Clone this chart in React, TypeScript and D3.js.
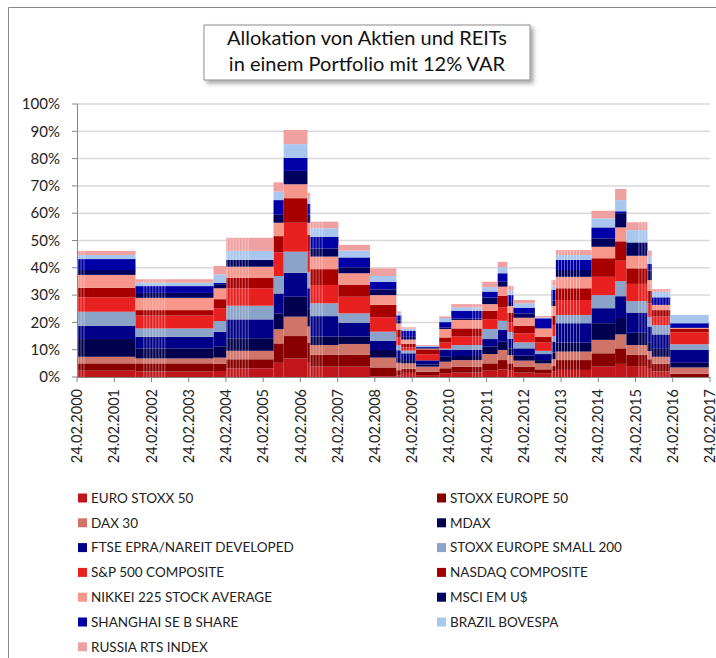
import { useEffect, useMemo } from 'react';
import * as d3 from 'd3';

// allocation periods (start dates), values in % of portfolio per index
const periodStarts = [
  '2000-02-24', '2001-09-20', '2003-10-25', '2004-02-27', '2005-06-05', '2005-09-12', '2006-05-04',
  '2006-06-01', '2007-03-04', '2008-01-08', '2008-09-22', '2008-11-10', '2009-04-03', '2009-11-17',
  '2010-03-15', '2011-01-12', '2011-06-13', '2011-09-17', '2011-11-14', '2012-06-12', '2012-11-22',
  '2013-01-04', '2013-12-19', '2014-08-08', '2014-11-27', '2015-06-21', '2015-08-04', '2016-01-31',
];
const periodEnd = '2017-02-12';

const euroStoxx50 = [2.3, 2.0, 2.2, 3.2, 5.2, 6.8, 5.5, 3.8, 3.8, 0.3, 0.5, 1.5, 0.7, 1.4, 1.6, 2.3, 2.8, 2.5, 1.6, 1.4, 2.0, 2.6, 3.8, 4.8, 4.0, 3.0, 2.0, 0];
const stoxxEurope50 = [2.7, 3.0, 2.6, 3.3, 7.1, 8.2, 7.0, 4.3, 4.3, 3.2, 2.0, 1.5, 1.2, 1.8, 2.2, 2.7, 3.4, 2.5, 2.2, 1.4, 2.0, 3.6, 4.9, 5.7, 4.1, 3.5, 2.8, 1.2];
const dax30 = [2.4, 1.8, 2.3, 3.1, 5.2, 7.1, 6.0, 3.6, 4.0, 3.6, 2.7, 2.0, 1.9, 2.4, 2.4, 3.4, 3.7, 3.0, 2.2, 2.2, 2.5, 3.1, 4.9, 5.1, 3.6, 3.0, 2.6, 2.3];
const mdax = [6.5, 3.7, 4.0, 4.6, 5.8, 7.3, 6.5, 3.1, 2.7, 2.8, 1.8, 1.2, 0.8, 1.8, 1.5, 2.7, 3.0, 2.5, 1.8, 1.2, 2.5, 3.3, 6.1, 6.0, 4.5, 3.0, 2.9, 1.7];
const ftseEpra = [4.9, 4.2, 5.5, 6.9, 7.3, 8.8, 7.5, 7.5, 5.1, 3.4, 2.8, 2.5, 1.5, 2.5, 2.2, 2.8, 4.3, 3.5, 2.7, 2.2, 4.0, 7.1, 5.5, 8.0, 7.4, 6.0, 5.3, 4.7];
const stoxxSmall200 = [5.1, 3.1, 3.9, 5.0, 6.4, 7.7, 6.0, 4.7, 3.4, 3.3, 1.8, 1.0, 0, 0.5, 1.8, 3.7, 3.4, 2.5, 2.2, 1.2, 2.0, 3.0, 4.8, 5.5, 4.2, 3.5, 3.4, 2.1];
const sp500 = [5.3, 4.7, 4.7, 6.4, 8.7, 10.6, 7.5, 6.7, 6.1, 5.3, 3.0, 1.2, 2.2, 2.2, 3.1, 3.6, 4.9, 3.5, 3.3, 3.1, 4.0, 5.5, 6.7, 7.5, 6.3, 5.0, 3.1, 4.4];
const nasdaq = [3.5, 2.0, 3.3, 3.9, 5.9, 9.0, 6.0, 5.8, 4.3, 4.5, 2.8, 1.3, 1.8, 1.9, 3.0, 3.1, 4.2, 3.5, 2.8, 2.1, 3.5, 4.3, 6.8, 7.1, 5.7, 4.5, 2.4, 1.2];
const nikkei225 = [4.7, 4.5, 4.0, 4.0, 4.9, 5.1, 4.5, 4.6, 4.3, 3.6, 2.2, 1.5, 0.3, 3.1, 3.1, 2.4, 3.4, 2.5, 2.9, 3.0, 3.5, 4.2, 4.2, 5.1, 4.6, 4.0, 1.9, 0.4];
const msciEm = [1.8, 1.8, 1.5, 2.5, 3.1, 4.9, 3.0, 3.0, 2.2, 2.1, 1.2, 1.0, 0.3, 0.5, 0.5, 2.4, 1.8, 1.5, 1.6, 0, 2.0, 2.5, 3.1, 5.2, 4.9, 3.5, 0, 0];
const shanghaiB = [4.0, 2.5, 0.5, 0, 5.2, 4.8, 4.0, 4.3, 3.6, 2.8, 1.8, 2.3, 0.4, 2.0, 2.8, 2.2, 3.1, 2.5, 2.1, 3.7, 4.0, 3.7, 4.0, 0.7, 0, 2.5, 2.8, 1.7];
const brazilBovespa = [1.5, 1.3, 3.1, 3.3, 3.1, 5.0, 2.5, 3.1, 2.5, 2.1, 0.8, 0.7, 0.3, 1.5, 1.3, 1.6, 2.2, 1.8, 1.6, 0.3, 1.5, 1.8, 3.3, 4.1, 4.5, 2.5, 2.0, 3.0];
const russiaRts = [1.5, 1.2, 3.1, 4.8, 3.4, 5.2, 1.5, 2.4, 2.1, 2.8, 0.6, 0.5, 0.3, 0.6, 1.2, 2.0, 2.0, 1.6, 1.2, 0.5, 2.0, 1.8, 2.8, 4.1, 2.9, 2.3, 1.0, 0];

const seriesNames = [
  'EURO STOXX 50', 'STOXX EUROPE 50', 'DAX 30', 'MDAX', 'FTSE EPRA/NAREIT DEVELOPED',
  'STOXX EUROPE SMALL 200', 'S&P 500 COMPOSITE', 'NASDAQ COMPOSITE', 'NIKKEI 225 STOCK AVERAGE',
  'MSCI EM U$', 'SHANGHAI SE B SHARE', 'BRAZIL BOVESPA', 'RUSSIA RTS INDEX',
];
const seriesValues = [
  euroStoxx50, stoxxEurope50, dax30, mdax, ftseEpra, stoxxSmall200, sp500,
  nasdaq, nikkei225, msciEm, shanghaiB, brazilBovespa, russiaRts,
];
const colors = [
  '#C0161B', '#880000', '#D0746A', '#00004E', '#000088', '#8BA3C8', '#E82020',
  '#A80000', '#F7968A', '#00005E', '#0000A6', '#A9C6EF', '#EFA0A0',
];

// weeks of rebalancing that show as thin striped columns
const stripeRanges = [
  ['2000-02-24', '2000-05-10'], ['2001-12-01', '2002-07-20'], ['2004-02-27', '2004-09-30'],
  ['2006-05-20', '2006-10-10'], ['2008-09-22', '2009-04-03'], ['2010-10-01', '2011-01-12'],
  ['2011-09-17', '2011-11-14'], ['2012-11-22', '2013-09-01'], ['2015-03-20', '2016-01-31'],
];

const yTicks = [0, 10, 20, 30, 40, 50, 60, 70, 80, 90, 100];
const titleLines = ['Allokation von Aktien und REITs', 'in einem Portfolio mit 12% VAR'];

const parse = d3.utcParse('%Y-%m-%d');
const fmt = d3.utcFormat('%d.%m.%Y');
const FONT = 'Lato, "Open Sans", sans-serif';

export default function App() {
  useEffect(() => {
    document.body.style.margin = '0';
  }, []);

  const W = 716;
  const H = 658;
  const x = d3.scaleUtc().domain([parse('2000-02-24')!, parse('2017-02-24')!]).range([77, 710]);
  const y = d3.scaleLinear().domain([0, 100]).range([377, 104]);

  const { layers, rows, bounds } = useMemo(() => {
    const rows = periodStarts.map((d, i) => {
      const r: Record<string, number> = { i };
      seriesNames.forEach((n, k) => (r[n] = seriesValues[k][i]));
      return r;
    });
    const layers = d3.stack<Record<string, number>>().keys(seriesNames)(rows);
    const bounds = [...periodStarts, periodEnd].map((d) => parse(d)!);
    return { layers, rows, bounds };
  }, []);

  const totals = rows.map((_, i) => seriesValues.reduce((s, a) => s + a[i], 0));
  const totalAt = (dt: Date) => {
    const i = d3.bisectRight(bounds, dt) - 1;
    return i >= 0 && i < totals.length ? totals[i] : 0;
  };

  const stripes: { xp: number; top: number }[] = [];
  stripeRanges.forEach(([a, b]) => {
    const x0 = x(parse(a)!);
    const x1 = x(parse(b)!);
    for (let xp = x0 + 1; xp < x1; xp += 3) {
      stripes.push({ xp, top: totalAt(x.invert(xp)) });
    }
  });

  const yearTicks = d3.range(2000, 2018).map((yr) => parse(`${yr}-02-24`)!);

  return (
    <svg width={W} height={H} style={{ display: 'block', background: '#fff' }} fontFamily={FONT}>
      <defs>
        <filter id="shadow" x="-10%" y="-20%" width="130%" height="160%">
          <feDropShadow dx="3" dy="3" stdDeviation="2" floodColor="#000" floodOpacity="0.35" />
        </filter>
      </defs>
      <path d={`M8.5,${H} V7.5 H${W}`} fill="none" stroke="#8a8a8a" />

      {/* gridlines */}
      {yTicks.slice(1).map((t) => (
        <line key={t} x1={77} x2={710} y1={y(t)} y2={y(t)} stroke="#d9d9d9" strokeWidth={1.5} />
      ))}

      {/* stacked allocation blocks */}
      {layers.map((layer, k) => (
        <g key={layer.key} fill={colors[k]}>
          {layer.map((d, i) => {
            const h = y(d[0]) - y(d[1]);
            if (h <= 0) return null;
            return (
              <rect
                key={i}
                x={x(bounds[i])}
                y={y(d[1])}
                width={x(bounds[i + 1]) - x(bounds[i])}
                height={h}
              />
            );
          })}
        </g>
      ))}

      {/* striped transition weeks */}
      <g stroke="#fff" strokeOpacity={0.38} strokeWidth={1}>
        {stripes.map((s, i) => (
          <line key={i} x1={s.xp} x2={s.xp} y1={y(0)} y2={y(s.top)} />
        ))}
      </g>

      {/* axes */}
      <g stroke="#868686" strokeWidth={1}>
        <line x1={77.5} x2={77.5} y1={y(100)} y2={y(0)} />
        <line x1={77} x2={710} y1={y(0) + 0.5} y2={y(0) + 0.5} />
        {yTicks.map((t) => (
          <line key={t} x1={72} x2={77.5} y1={y(t)} y2={y(t)} />
        ))}
        {yearTicks.map((d, i) => (
          <line key={i} x1={x(d)} x2={x(d)} y1={y(0)} y2={y(0) + 5} />
        ))}
      </g>
      {yTicks.map((t) => (
        <text key={t} x={60} y={y(t)} dy="0.35em" textAnchor="end" fontSize={15} fill="#222">
          {t}%
        </text>
      ))}
      {yearTicks.map((d, i) => (
        <text
          key={i}
          transform={`translate(${x(d)},389) rotate(-90)`}
          textAnchor="end"
          dy="0.35em"
          fontSize={14.5}
          fill="#222"
        >
          {fmt(d)}
        </text>
      ))}

      {/* title */}
      <rect x={204} y={25} width={326} height={55} fill="#fff" stroke="#8c8c8c" filter="url(#shadow)" />
      {titleLines.map((l, i) => (
        <text key={i} x={367} y={38 + i * 26} dy="0.35em" textAnchor="middle" fontSize={20} fill="#111">
          {l}
        </text>
      ))}

      {/* legend */}
      {seriesNames.map((n, k) => {
        const col = k % 2;
        const row = Math.floor(k / 2);
        const lx = col === 0 ? 78 : 437;
        const ly = 498 + row * 24.8;
        return (
          <g key={n}>
            <rect x={lx} y={ly - 4.5} width={9} height={9} fill={colors[k]} />
            <text x={lx + 13} y={ly} dy="0.35em" fontSize={13.5} fill="#222">
              {n}
            </text>
          </g>
        );
      })}
    </svg>
  );
}
